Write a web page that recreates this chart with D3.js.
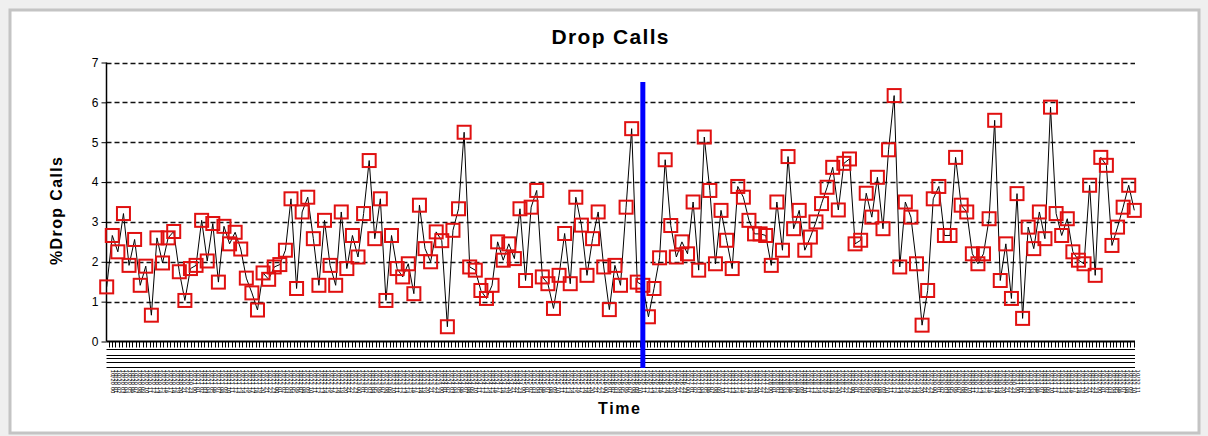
<!DOCTYPE html>
<html><head><meta charset="utf-8">
<script src="https://cdn.jsdelivr.net/npm/d3@7"></script>
<style>html,body{margin:0;padding:0;background:#efefef;} svg{display:block}</style>
</head><body><svg id="c" width="1208" height="436"></svg>
<script>
const chartTitle = "Drop Calls";
const yAxisTitle = "%Drop Calls";
const xAxisTitle = "Time";
const dropPct = [
  1.37, 2.66, 2.25, 3.21, 1.91, 2.56, 1.41, 1.89, 0.66, 2.60, 1.97, 2.60, 2.76, 1.75, 1.03, 1.83, 1.91, 3.04, 2.02, 2.96,
  1.49, 2.89, 2.45, 2.74, 2.32, 1.59, 1.22, 0.79, 1.72, 1.56, 1.87, 1.93, 2.29, 3.58, 1.33, 3.25,
  3.62, 2.58, 1.41, 3.04, 1.91, 1.41, 3.25, 1.83, 2.66, 2.12, 3.21, 4.54, 2.58, 3.58, 1.03, 2.66, 1.83, 1.62, 1.95, 1.20,
  3.42, 2.33, 2.00, 2.75, 2.53, 0.37,
  2.79, 3.33, 5.25, 1.87, 1.79, 1.28, 1.08, 1.41, 2.50, 2.04, 2.45, 2.08, 3.33, 1.53, 3.37, 3.79, 1.62, 1.45, 0.83, 1.66,
  2.71, 1.45, 3.62, 2.92, 1.66, 2.58, 3.25, 1.87, 0.80, 1.91,
  1.41, 3.37, 5.34, 1.49, 1.41, 0.62, 1.33, 2.10, 4.56, 2.91, 2.12, 2.50, 2.20, 3.50, 1.79, 5.13, 3.79, 1.95, 3.29, 2.54,
  1.83, 3.89, 3.62, 3.04, 2.70, 2.70, 2.66, 1.91,
  3.50, 2.29, 4.64, 2.83, 3.29, 2.29, 2.62, 3.00, 3.46, 3.87, 4.37, 3.30, 4.47, 4.58, 2.45, 2.54, 3.72, 3.12, 4.12, 2.83,
  4.81, 6.17, 1.87, 3.50, 3.12, 1.95, 0.41, 1.28, 3.58, 3.89, 2.66, 2.66,
  4.62, 3.42, 3.25, 2.20, 1.95, 2.20, 3.08, 5.55, 1.53, 2.45, 1.08, 3.71, 0.58, 2.87, 2.33, 3.25, 2.58, 5.88, 3.21, 2.66,
  3.08, 2.25, 2.04, 1.95, 3.92, 1.66, 4.62, 4.42, 2.41, 2.87, 3.37, 3.92, 3.29
];
const yTickValues = [0, 1, 2, 3, 4, 5, 6, 7];
const markerIndex = 96;           // position of the blue vertical marker (sample index)
const timeTickCount = 300;         // number of (unreadable) time ticks on the x axis
const timeLabels = d3.range(timeTickCount).map(i => {
  const d = 20 + Math.floor(i / 24), h = i % 24;
  return "10/" + d + " " + (h < 10 ? "0" + h : h);
});

const svg = d3.select("#c");
const plotL = 106.5, plotR = 1135, plotT = 62.5, plotB = 341.5;

// frame
svg.append("rect").attr("x", 10).attr("y", 10).attr("width", 1189).attr("height", 423)
  .attr("fill", "#fff").attr("stroke", "#c4c4c4").attr("stroke-width", 3);

const x = d3.scaleLinear().domain([0, dropPct.length - 1]).range([106.7, 1134.3]);
const y = d3.scaleLinear().domain([0, 7]).range([plotB, plotT]);
const xt = d3.scaleLinear().domain([0, timeTickCount - 1]).range([108.5, 1133.5]);

// grid
svg.append("g").selectAll("line").data(yTickValues.filter(v => v > 0)).join("line")
  .attr("x1", plotL).attr("x2", plotR)
  .attr("y1", d => Math.round(y(d)) + 0.5).attr("y2", d => Math.round(y(d)) + 0.5)
  .attr("stroke", "#111").attr("stroke-width", 1.3).attr("stroke-dasharray", "5,3");

// y axis
const yAxis = d3.axisLeft(y).tickValues(yTickValues).tickFormat(d3.format("d")).tickSize(5).tickPadding(3);
const gy = svg.append("g").attr("transform", `translate(${plotL},0)`).call(yAxis);
gy.select(".domain").attr("stroke", "#000").attr("stroke-width", 1.5).attr("d", `M0,${plotT}V${plotB}`);
gy.selectAll(".tick line").attr("stroke", "#000");
gy.selectAll(".tick text").attr("font-family", "Liberation Sans, Arial, sans-serif").attr("font-size", 12).attr("fill", "#000");

// x axis with dense time ticks
const gx = svg.append("g");
gx.append("line").attr("x1", plotL).attr("x2", plotR).attr("y1", plotB).attr("y2", plotB)
  .attr("stroke", "#000").attr("stroke-width", 2);
gx.selectAll("line.tk").data(timeLabels).join("line").attr("class", "tk")
  .attr("x1", (d, i) => Math.round(xt(i)) + 0.5).attr("x2", (d, i) => Math.round(xt(i)) + 0.5)
  .attr("y1", plotB).attr("y2", plotB + 6).attr("stroke", "#000").attr("stroke-width", 1);
const ruleOffsets = [7.5, 13, 16, 20.5, 25.5];
gx.selectAll("line.rule").data(ruleOffsets).join("line").attr("class", "rule")
  .attr("x1", plotL).attr("x2", plotR)
  .attr("y1", d => Math.round(plotB + d) + 0.5).attr("y2", d => Math.round(plotB + d) + 0.5)
  .attr("stroke", "#000").attr("stroke-width", 1);
gx.selectAll("text.tl").data(timeLabels).join("text").attr("class", "tl")
  .attr("transform", (d, i) => `translate(${xt(i) + 2},${plotB + 28}) rotate(90)`)
  .attr("font-family", "DejaVu Sans, sans-serif").attr("font-size", 5.5)
  .attr("textLength", 24).attr("lengthAdjust", "spacingAndGlyphs")
  .attr("fill", "#000").text(d => d);

// series line
svg.append("path").datum(dropPct)
  .attr("d", d3.line().x((d, i) => x(i)).y(d => y(d)))
  .attr("fill", "none").attr("stroke", "#000").attr("stroke-width", 1);

// markers
svg.append("g").selectAll("rect").data(dropPct).join("rect")
  .attr("x", (d, i) => x(i) - 6.5).attr("y", d => y(d) - 6.5)
  .attr("width", 13).attr("height", 13)
  .attr("fill", "none").attr("stroke", "#e01010").attr("stroke-width", 2);

// blue marker line
svg.append("line").attr("x1", x(markerIndex)).attr("x2", x(markerIndex))
  .attr("y1", 82).attr("y2", 368).attr("stroke", "#0000ff").attr("stroke-width", 5);

// titles
svg.append("text").attr("x", 610).attr("y", 44).attr("text-anchor", "middle")
  .attr("font-family", "Liberation Sans, Arial, sans-serif").attr("font-weight", "bold")
  .attr("font-size", 21).attr("textLength", 117).attr("lengthAdjust", "spacing").text(chartTitle);
svg.append("text").attr("transform", "translate(62,211) rotate(-90)").attr("text-anchor", "middle")
  .attr("font-family", "Liberation Sans, Arial, sans-serif").attr("font-weight", "bold")
  .attr("font-size", 16).attr("textLength", 108).attr("lengthAdjust", "spacing").text(yAxisTitle);
svg.append("text").attr("x", 619).attr("y", 414).attr("text-anchor", "middle")
  .attr("font-family", "Liberation Sans, Arial, sans-serif").attr("font-weight", "bold")
  .attr("font-size", 16).attr("textLength", 42).attr("lengthAdjust", "spacing").text(xAxisTitle);
</script>
</body></html>
